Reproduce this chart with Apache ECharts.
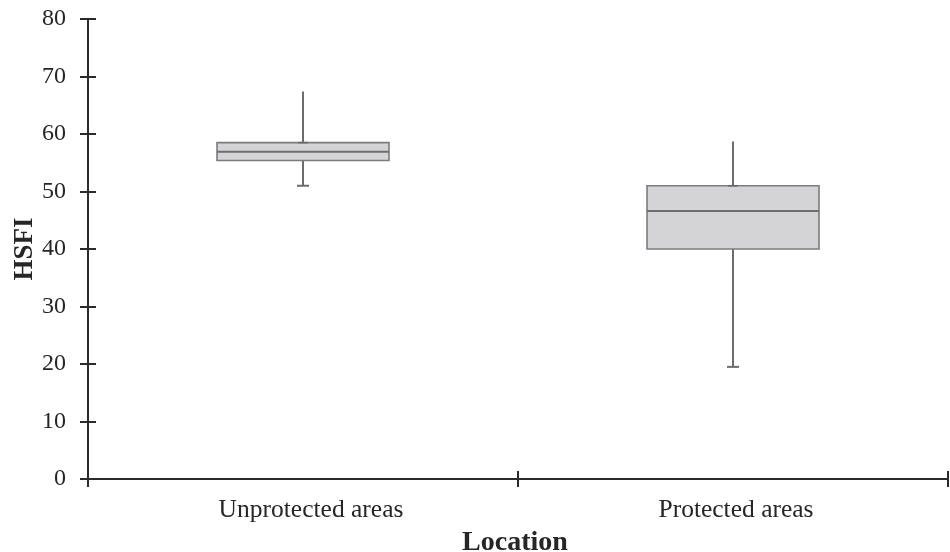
<!DOCTYPE html>
<html>
<head>
<meta charset="utf-8">
<script src="https://cdn.jsdelivr.net/npm/echarts@6/dist/echarts.min.js"></script>
<style>
  html, body { margin: 0; padding: 0; background: #fff; }
  #chart { width: 950px; height: 552px; }
</style>
</head>
<body>
<div id="chart"></div>
<script>
// HSFI distribution by location
const categories = ['Unprotected areas', 'Protected areas'];
const whiskerMin = [51.0, 19.5];
const quartile1 = [55.4, 40.0];
const medians = [56.9, 46.6];
const quartile3 = [58.5, 51.0];
const whiskerMax = [67.4, 58.7];

const yMin = 0, yMax = 80, yStep = 10;

const FONT = '"Liberation Serif", "Times New Roman", serif';
const AXIS_COLOR = '#2a2a2a';
const TEXT_COLOR = '#262626';

const boxData = categories.map((c, i) => [i, whiskerMin[i], quartile1[i], medians[i], quartile3[i], whiskerMax[i]]);

function renderBox(params, api) {
  const idx = api.value(0);
  const bandW = api.size([1, 0])[0];
  const halfW = bandW * 0.2;
  const pLow = api.coord([idx, api.value(1)]);
  const pQ1 = api.coord([idx, api.value(2)]);
  const pMed = api.coord([idx, api.value(3)]);
  const pQ3 = api.coord([idx, api.value(4)]);
  const pHigh = api.coord([idx, api.value(5)]);
  const cx = pMed[0];
  const whisker = { stroke: '#6c6c70', lineWidth: 2 };
  return {
    type: 'group',
    children: [
      { type: 'line', shape: { x1: cx, y1: pQ3[1], x2: cx, y2: pHigh[1] }, style: whisker },
      { type: 'line', shape: { x1: cx, y1: pQ1[1], x2: cx, y2: pLow[1] }, style: whisker },
      { type: 'line', shape: { x1: cx - 6, y1: pLow[1], x2: cx + 6, y2: pLow[1] }, style: whisker },
      {
        type: 'rect',
        shape: { x: cx - halfW, y: pQ3[1], width: halfW * 2, height: pQ1[1] - pQ3[1] },
        style: { fill: '#d4d4d6', stroke: '#7c7c80', lineWidth: 1.6 }
      },
      { type: 'line', shape: { x1: cx - halfW, y1: pMed[1], x2: cx + halfW, y2: pMed[1] }, style: { stroke: '#6e6e72', lineWidth: 2 } },
      { type: 'line', shape: { x1: cx - 5, y1: pQ3[1], x2: cx + 5, y2: pQ3[1] }, style: { stroke: '#68686c', lineWidth: 1.6 } }
    ]
  };
}

const chart = echarts.init(document.getElementById('chart'), null, { renderer: 'canvas' });

const xBase = {
  type: 'category',
  data: categories,
  boundaryGap: true,
  position: 'bottom'
};
const yBase = {
  type: 'value',
  min: yMin,
  max: yMax,
  interval: yStep,
  position: 'left'
};

const labelText = { fontFamily: FONT, fontSize: 25.5, color: TEXT_COLOR };

chart.setOption({
  animation: false,
  backgroundColor: '#ffffff',
  grid: { left: 88, right: 2, top: 19, bottom: 73, containLabel: false, outerBoundsMode: 'none' },
  xAxis: [
    Object.assign({}, xBase, {
      name: 'Location',
      nameLocation: 'middle',
      nameGap: 50,
      nameMoveOverlap: false,
      nameTextStyle: { fontFamily: FONT, fontWeight: 'bold', fontSize: 28, color: TEXT_COLOR, padding: [0, 6, 0, 0] },
      axisLine: { show: true, lineStyle: { color: AXIS_COLOR, width: 2 } },
      axisTick: { show: true, length: 8, inside: false, lineStyle: { color: AXIS_COLOR, width: 2 } },
      axisLabel: {
        show: true,
        margin: 18,
        fontFamily: FONT,
        fontSize: 25.5,
        color: TEXT_COLOR,
        formatter: (value, index) => (index === 0 ? '{u|' + value + '}' : '{p|' + value + '}'),
        rich: {
          u: Object.assign({ padding: [0, 0, 0, 16] }, labelText),
          p: Object.assign({ padding: [0, 0, 0, 6] }, labelText)
        }
      },
      splitLine: { show: false }
    }),
    Object.assign({}, xBase, {
      axisLine: { show: false },
      axisTick: { show: true, length: 8, inside: true, lineStyle: { color: AXIS_COLOR, width: 2 } },
      axisLabel: { show: false },
      splitLine: { show: false }
    })
  ],
  yAxis: [
    Object.assign({}, yBase, {
      name: 'HSFI',
      nameLocation: 'middle',
      nameGap: 49,
      nameMoveOverlap: false,
      nameRotate: 90,
      nameTextStyle: { fontFamily: FONT, fontWeight: 'bold', fontSize: 27, color: TEXT_COLOR },
      axisLine: { show: true, lineStyle: { color: AXIS_COLOR, width: 2 } },
      axisTick: { show: true, length: 8, inside: false, lineStyle: { color: AXIS_COLOR, width: 2 } },
      axisLabel: { show: true, margin: 22, fontFamily: FONT, fontSize: 24, color: TEXT_COLOR },
      splitLine: { show: false }
    }),
    Object.assign({}, yBase, {
      axisLine: { show: false },
      axisTick: { show: true, length: 8, inside: true, lineStyle: { color: AXIS_COLOR, width: 2 } },
      axisLabel: { show: false },
      splitLine: { show: false }
    })
  ],
  series: [{
    type: 'custom',
    xAxisIndex: 0,
    yAxisIndex: 0,
    renderItem: renderBox,
    encode: { x: 0, y: [1, 2, 3, 4, 5] },
    data: boxData,
    z: 3
  }]
});
</script>
</body>
</html>
